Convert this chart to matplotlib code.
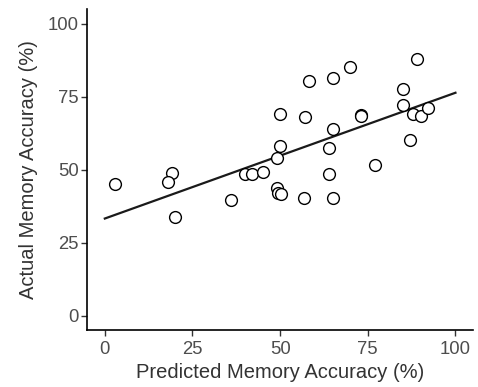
import matplotlib
matplotlib.use("Agg")
import matplotlib.pyplot as plt

plt.rcParams['font.family'] = ['Liberation Sans', 'DejaVu Sans']

predicted = [3.0, 19.1, 18.0, 36.1, 40.0, 42.1, 45.1, 49.1, 49.3, 50.2,
             50.0, 50.0, 49.1, 20.1, 58.1, 65.0, 69.9, 89.0, 85.1, 85.1,
             87.9, 90.2, 92.1, 57.1, 73.0, 73.2, 65.0, 64.0, 87.0, 77.0,
             64.0, 56.9, 65.0]
actual = [45.0, 49.0, 45.9, 39.8, 48.7, 48.4, 49.3, 43.8, 41.9, 41.6,
          69.1, 58.1, 54.2, 33.9, 80.5, 81.6, 85.1, 88.1, 77.6, 72.2,
          69.1, 68.5, 71.3, 68.0, 68.8, 68.3, 64.0, 57.4, 60.2, 51.7,
          48.7, 40.4, 40.4]
fit_x = [0, 100]
fit_y = [33.3, 76.4]
ticks = [0, 25, 50, 75, 100]

fig = plt.figure(figsize=(4.78, 3.87), dpi=100)
ax = fig.add_axes([0.1826, 0.1465, 0.9895 - 0.1826, 0.976 - 0.1465])

ax.plot(fit_x, fit_y, color='#1a1a1a', lw=1.6, zorder=2)
ax.scatter(predicted, actual, s=72, facecolors='white', edgecolors='black',
           linewidths=1.0, zorder=3)

ax.set_xlim(-5, 105)
ax.set_ylim(-5, 105)
ax.set_xticks(ticks)
ax.set_yticks(ticks)
for s in ['top', 'right']:
    ax.spines[s].set_visible(False)
for s in ['left', 'bottom']:
    ax.spines[s].set_linewidth(1.2)
    ax.spines[s].set_color('black')
ax.tick_params(axis='both', length=4, width=1.0, color='#333333',
               labelsize=13.3, labelcolor='#4d4d4d')
ax.tick_params(axis='x', pad=3.5)
ax.tick_params(axis='y', pad=2)
ax.set_xlabel('Predicted Memory Accuracy (%)', fontsize=14.5, color='#333333', labelpad=4)
ax.set_ylabel('Actual Memory Accuracy (%)', fontsize=14.5, color='#333333', labelpad=7)

fig.savefig('out.png', dpi=100)
